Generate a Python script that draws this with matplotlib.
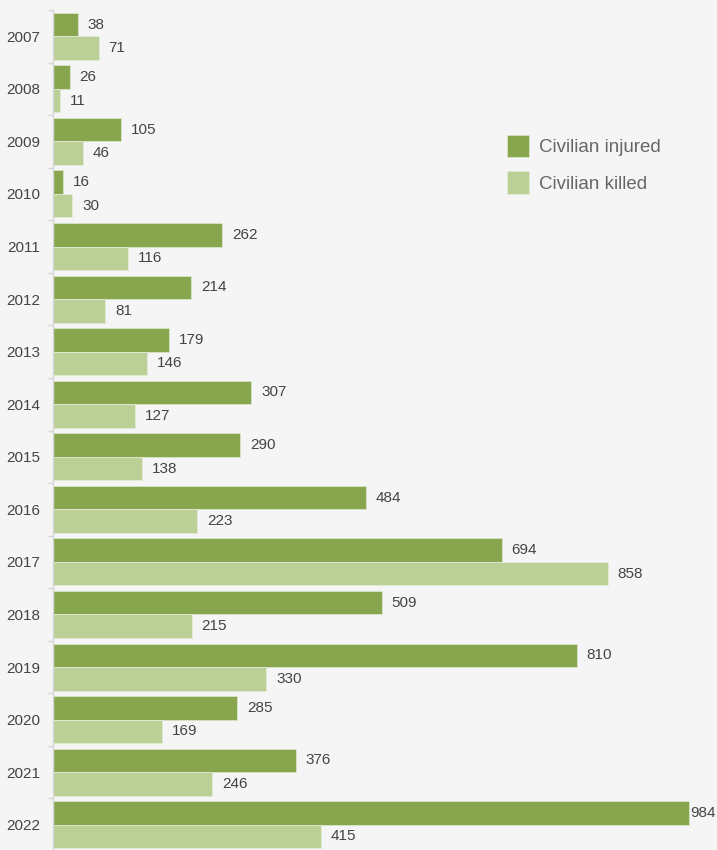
import numpy as np
import matplotlib.pyplot as plt

years = ['2007', '2008', '2009', '2010', '2011', '2012', '2013', '2014',
         '2015', '2016', '2017', '2018', '2019', '2020', '2021', '2022']
injured = [38, 26, 105, 16, 262, 214, 179, 307, 290, 484, 694, 509, 810, 285, 376, 984]
killed = [71, 11, 46, 30, 116, 81, 146, 127, 138, 223, 858, 215, 330, 169, 246, 415]

plt.rcParams['font.family'] = ['Liberation Sans', 'DejaVu Sans']

bg = '#f5f5f5'
c_injured = '#88a64d'
c_killed = '#bbd097'

fig = plt.figure(figsize=(7.17, 8.5), dpi=100, facecolor=bg)
ax = fig.add_axes([53 / 717, -1 / 850, 1 - 53 / 717, 1 - 9 / 850])
ax.set_facecolor(bg)

y = np.arange(len(years))
h = 0.447
xmax = 1027

b1 = ax.barh(y - h / 2, injured, height=h, color=c_injured,
             edgecolor='#dfe7d0', linewidth=0.5, label='Civilian injured')
b2 = ax.barh(y + h / 2, killed, height=h, color=c_killed,
             edgecolor='#e6eddb', linewidth=0.5, label='Civilian killed')

# value labels, pulled in close when there is no room at the right edge
for bars, vals in ((b1, injured), (b2, killed)):
    for rect, v in zip(bars, vals):
        pad = 1 if v > xmax - 60 else 7
        ax.annotate(str(v), (v, rect.get_y() + rect.get_height() / 2),
                    xytext=(pad, 0), textcoords='offset points',
                    ha='left', va='center', fontsize=11, color='#444444')

ax.set_xlim(0, xmax)
ax.set_ylim(len(years) - 0.5, -0.5)

ax.set_yticks(y)
ax.set_yticklabels(years, fontsize=11, color='#444444')
ax.tick_params(axis='y', which='major', length=0, pad=9)
ax.set_yticks(np.arange(len(years) + 1) - 0.5, minor=True)
ax.tick_params(axis='y', which='minor', length=3.5, width=1, color='#d6d6d6')
ax.set_xticks([])

for s in ('top', 'right', 'bottom'):
    ax.spines[s].set_visible(False)
ax.spines['left'].set_color('#d6d6d6')
ax.spines['left'].set_linewidth(1)

leg = ax.legend(loc='upper left', bbox_to_anchor=(507 / 717, 1 - 135 / 850),
                bbox_transform=fig.transFigure, frameon=False, fontsize=13.5,
                handlelength=1.15, handleheight=1.45, labelspacing=0.75,
                handletextpad=0.55, borderpad=0, borderaxespad=0)
for t in leg.get_texts():
    t.set_color('#666666')

fig.savefig('out.png', dpi=100, facecolor=bg)
